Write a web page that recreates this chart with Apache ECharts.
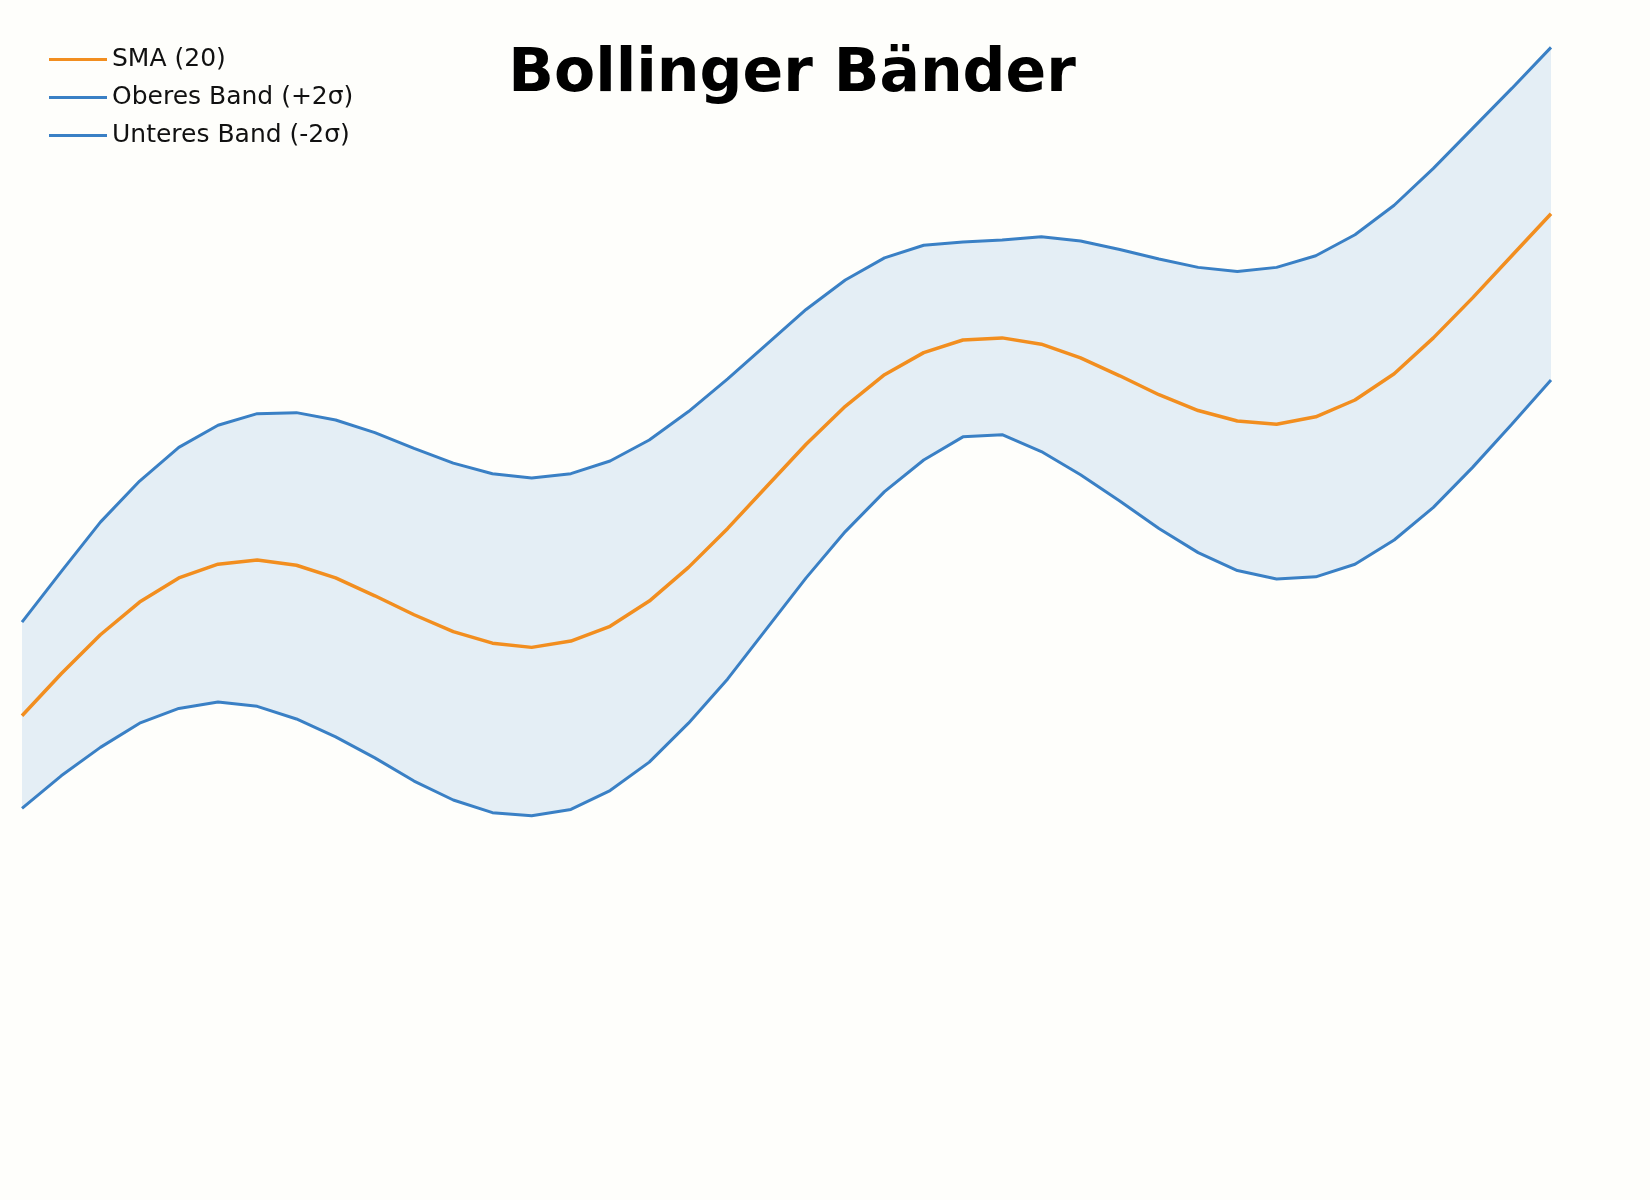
<!DOCTYPE html>
<html><head><meta charset="utf-8">
<script src="https://cdn.jsdelivr.net/npm/echarts@6/dist/echarts.min.js"></script>
<style>html,body{margin:0;background:#fefefb}#c{width:1650px;height:1200px}</style>
</head><body><div id="c"></div>
<script>
const categories = Array.from({length:40},(_,i)=>i+1);
const smaPx = [680,640,603,572,549,536,532,537,549,566,584,600,611,615,609,595,571,539,502,462,422,386,356,335,323,321,327,340,357,375,390,400,403,396,380,355,321,283,243,203];
const upperPx = [591,543,496,457,425,404,393,392,399,411,426,440,450,454,450,438,418,391,360,327,294,266,245,233,230,228,225,229,237,246,254,258,254,243,223,195,160,122,84,45];
const lowerPx = [768,737,710,687,673,667,671,683,700,720,742,760,772,775,769,751,724,687,645,597,549,505,467,437,415,413,429,451,476,502,525,542,550,548,536,513,482,444,403,361];
const H = 1140;
const sma = smaPx.map(v=>H-v), upper = upperPx.map(v=>H-v), lower = lowerPx.map(v=>H-v);
const bandWidth = upper.map((u,i)=>u-lower[i]);
const chart = echarts.init(document.getElementById('c'));
const blue = '#3a80c5', orange = '#f28e1f';
chart.setOption({
  backgroundColor:'#fefefb',
  animation:false,
  title:{text:'Bollinger Bänder',left:787,textAlign:'center',top:40,textStyle:{fontSize:60,fontWeight:'bold',color:'#000',fontFamily:'DejaVu Sans'}},
  legend:{left:44,top:42,orient:'vertical',itemGap:13,itemWidth:58,itemHeight:3,icon:'rect',
    textStyle:{fontSize:25,color:'#111',fontFamily:'DejaVu Sans'},
    data:['SMA (20)','Oberes Band (+2σ)','Unteres Band (-2σ)']},
  grid:{left:22,right:99,top:0,bottom:0},
  xAxis:{type:'category',data:categories,boundaryGap:false,show:false},
  yAxis:{type:'value',min:0,max:H,show:false},
  series:[
    {name:'base',type:'line',data:lower,stack:'band',symbol:'none',lineStyle:{opacity:0},silent:true},
    {name:'fill',type:'line',data:bandWidth,stack:'band',symbol:'none',lineStyle:{opacity:0},areaStyle:{color:'#e4eef5',opacity:1},silent:true},
    {name:'Oberes Band (+2σ)',type:'line',data:upper,symbol:'none',color:blue,lineStyle:{width:3,color:blue}},
    {name:'Unteres Band (-2σ)',type:'line',data:lower,symbol:'none',color:blue,lineStyle:{width:3,color:blue}},
    {name:'SMA (20)',type:'line',data:sma,symbol:'none',color:orange,lineStyle:{width:3.5,color:orange}}
  ]
});
</script></body></html>
